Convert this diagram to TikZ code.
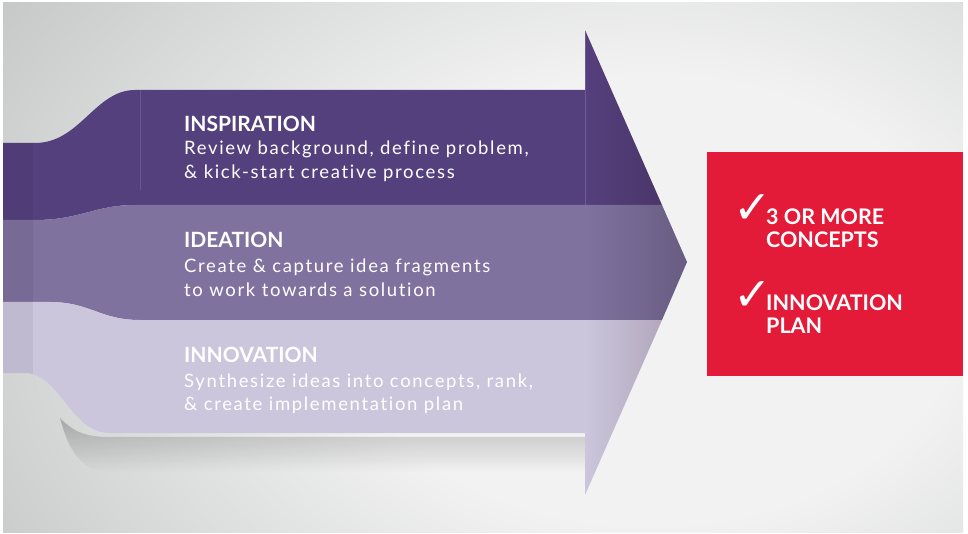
\documentclass[tikz,border=0pt]{standalone}
\usepackage{xcolor}
\usepackage{tikz}
\usepackage{fontspec}
\setmainfont{Lato}
\newfontfamily\bodyfont[LetterSpace=9, Ligatures=NoCommon]{Lato}
\newfontfamily\symfont{DejaVu Sans}
\usetikzlibrary{fadings}

\definecolor{bgin}{HTML}{F2F2F2}
\definecolor{bgout}{HTML}{C0C2C2}
\definecolor{inspc}{HTML}{55407E}
\definecolor{inspd}{HTML}{4A3668}
\definecolor{ideac}{HTML}{7F729F}
\definecolor{idead}{HTML}{695C82}
\definecolor{innoc}{HTML}{CBC6DC}
\definecolor{innod}{HTML}{B3A8BD}
\definecolor{boxred}{HTML}{E31A38}

\pgfdeclareradialshading{vignette}{\pgfpoint{0bp}{0bp}}{color(0bp)=(bgin); color(10bp)=(bgin); color(27bp)=(bgout); color(50bp)=(bgout)}
\tikzfading[name=foldfade, left color=transparent!100, middle color=transparent!50, right color=transparent!100]

\tikzset{
  titletext/.style={anchor=base west, inner sep=0, text=white, font=\bfseries\fontsize{21}{24}\selectfont},
  bodytext/.style={anchor=base west, inner sep=0, text=white, font=\bodyfont\fontsize{18.5}{22}\selectfont},
  goaltext/.style={anchor=base west, inner sep=0, text=white, font=\bfseries\fontsize{21.5}{24}\selectfont},
  checkmark/.style={anchor=base west, inner sep=0, text=white, font=\symfont\bfseries\fontsize{46}{48}\selectfont},
}

\begin{document}
\begin{tikzpicture}[x=1pt,y=-1pt]
\useasboundingbox (0,0) rectangle (968,534);
%背景
\begin{scope}
\clip (3,3) rectangle (963,532);
\fill[bgout] (3,3) rectangle (963,532);
\shade[shading=vignette] (650,300) ellipse (780 and 560);
\end{scope}
%影
\fill[black, opacity=0.22, path fading=south] (60,418) .. controls (75,434) and (90,437) .. (110,437) -- (585,437) -- (585,472) -- (110,472) .. controls (80,472) and (68,448) .. (60,418) -- cycle;
%三条带
\fill[inspc] (3,143) -- (35,143) .. controls (80,143) and (95,90) .. (135,90) -- (585,90) -- (585,205) -- (135,205) .. controls (95,205) and (80,220) .. (35,220) -- (3,220) -- cycle;
\fill[ideac] (3,220) -- (35,220) .. controls (80,220) and (95,205) .. (135,205) -- (585,205) -- (585,320) -- (140,320) .. controls (100,320) and (90,302) .. (50,302) -- (3,302) -- cycle;
\fill[innoc] (3,302) -- (50,302) .. controls (90,302) and (100,320) .. (140,320) -- (585,320) -- (585,433) -- (110,433) .. controls (70,433) and (60,373) .. (25,373) -- (3,373) -- cycle;
%折痕
\begin{scope}
\clip (3,143) -- (35,143) .. controls (80,143) and (95,90) .. (135,90) -- (585,90) -- (585,433) -- (110,433) .. controls (70,433) and (60,373) .. (25,373) -- (3,373) -- cycle;
\fill[black, opacity=0.06] (3,80) rectangle (33,440);
\fill[white, path fading=foldfade] (100,80) rectangle (140,440);
\draw[white, opacity=0.12] (140,90) -- (140,190);
\end{scope}
%箭头
\shade[left color=inspc, right color=inspd] (585,30) -- (662,205) -- (585,205) -- cycle;
\shade[left color=ideac, right color=idead] (585,205) -- (662,205) -- (687,262) -- (662,320) -- (585,320) -- cycle;
\shade[left color=innoc, right color=innod] (585,320) -- (662,320) -- (585,495) -- cycle;
\draw[white, opacity=0.15] (585,30) -- (585,205);
%Text
\node[titletext] (inspT) at (184,132) {INSPIRATION};
\node[bodytext] (inspA) at (184,155) {Review background, define problem,};
\node[bodytext] (inspB) at (184,179) {\& kick-start creative process};
\node[titletext] (ideaT) at (184,248) {IDEATION};
\node[bodytext] (ideaA) at (184,273) {Create \& capture idea fragments};
\node[bodytext] (ideaB) at (184,297) {to work towards a solution};
\node[titletext] (innoT) at (184,362) {INNOVATION};
\node[bodytext] (innoA) at (184,387) {Synthesize ideas into concepts, rank,};
\node[bodytext] (innoB) at (184,410) {\& create implementation plan};
%红框
\node[fill=boxred, minimum width=256pt, minimum height=224pt, inner sep=0, anchor=north west] (goal) at (707,152) {};
\node[checkmark] (chkA) at (733,224) {✓};
\node[goaltext] (goalA) at (766,225) {3 OR MORE};
\node[goaltext] (goalB) at (766,248) {CONCEPTS};
\node[checkmark] (chkB) at (733,310) {✓};
\node[goaltext] (goalC) at (766,310) {INNOVATION};
\node[goaltext] (goalD) at (766,333) {PLAN};
\end{tikzpicture}
\end{document}
